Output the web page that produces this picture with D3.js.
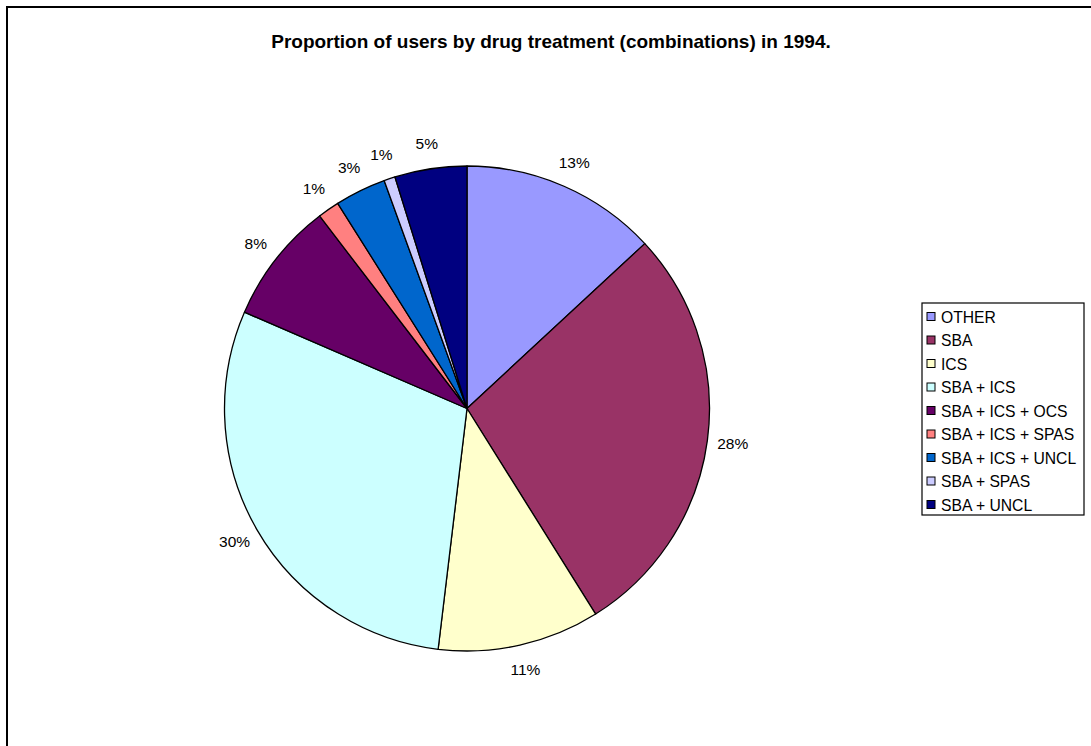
<!DOCTYPE html>
<html>
<head>
<meta charset="utf-8">
<script src="https://cdn.jsdelivr.net/npm/d3@7"></script>
<style>
  body { margin: 0; background: #fff; }
  text { font-family: "Liberation Sans", Arial, sans-serif; }
</style>
</head>
<body>
<div class="chart-container"></div>
<script>
// values (percent of users)
const categories = ["OTHER", "SBA", "ICS", "SBA + ICS", "SBA + ICS + OCS",
  "SBA + ICS + SPAS", "SBA + ICS + UNCL", "SBA + SPAS", "SBA + UNCL"];
const shares = [13.1, 28.0, 10.8, 29.6, 8.1, 1.45, 3.4, 0.75, 4.8];
const colors = ["#9999FF", "#993366", "#FFFFCC", "#CCFFFF", "#660066",
  "#FF8080", "#0066CC", "#CCCCFF", "#000080"];

const width = 1091, height = 746;
const cx = 467, cy = 408.5, radius = 242.5;

const svg = d3.select(".chart-container").append("svg")
  .attr("width", width)
  .attr("height", height);

// chart frame (only top and left edges are visible in the crop)
svg.append("path")
  .attr("d", `M7,${height + 5} V7 H${width + 5}`)
  .attr("fill", "none")
  .attr("stroke", "black")
  .attr("stroke-width", 2);

svg.append("text")
  .attr("x", 551)
  .attr("y", 48)
  .attr("text-anchor", "middle")
  .attr("font-size", 19)
  .attr("font-weight", "bold")
  .text("Proportion of users by drug treatment (combinations) in 1994.");

const data = categories.map((c, i) => ({ name: c, value: shares[i], color: colors[i] }));

const pie = d3.pie().sort(null).value(d => d.value);
const arcs = pie(data);
const total = d3.sum(shares);

const arc = d3.arc().innerRadius(0).outerRadius(radius);
const labelArc = d3.arc().innerRadius(268).outerRadius(268);

const g = svg.append("g").attr("transform", `translate(${cx},${cy})`);

g.selectAll("path")
  .data(arcs)
  .join("path")
  .attr("d", arc)
  .attr("fill", d => d.data.color)
  .attr("stroke", "black")
  .attr("stroke-width", 1.3)
  .attr("stroke-linejoin", "round");

g.selectAll("text")
  .data(arcs)
  .join("text")
  .attr("transform", d => `translate(${labelArc.centroid(d)})`)
  .attr("text-anchor", "middle")
  .attr("dy", "0.35em")
  .attr("font-size", 15.5)
  .text(d => Math.max(1, Math.round(d.data.value / total * 100)) + "%");

// legend
const legend = svg.append("g").attr("transform", "translate(922,303)");
legend.append("rect")
  .attr("width", 162)
  .attr("height", 212)
  .attr("fill", "white")
  .attr("stroke", "black")
  .attr("stroke-width", 1.2);

const rowY = d3.scalePoint().domain(categories).range([14, 202]);

const rows = legend.selectAll(".row")
  .data(data)
  .join("g")
  .attr("class", "row")
  .attr("transform", d => `translate(0,${rowY(d.name)})`);

rows.append("rect")
  .attr("x", 5)
  .attr("y", -4.5)
  .attr("width", 8)
  .attr("height", 8)
  .attr("fill", d => d.color)
  .attr("stroke", "black")
  .attr("stroke-width", 1);

rows.append("text")
  .attr("x", 19)
  .attr("dy", "0.36em")
  .attr("font-size", 15.7)
  .text(d => d.name);
</script>
</body>
</html>
